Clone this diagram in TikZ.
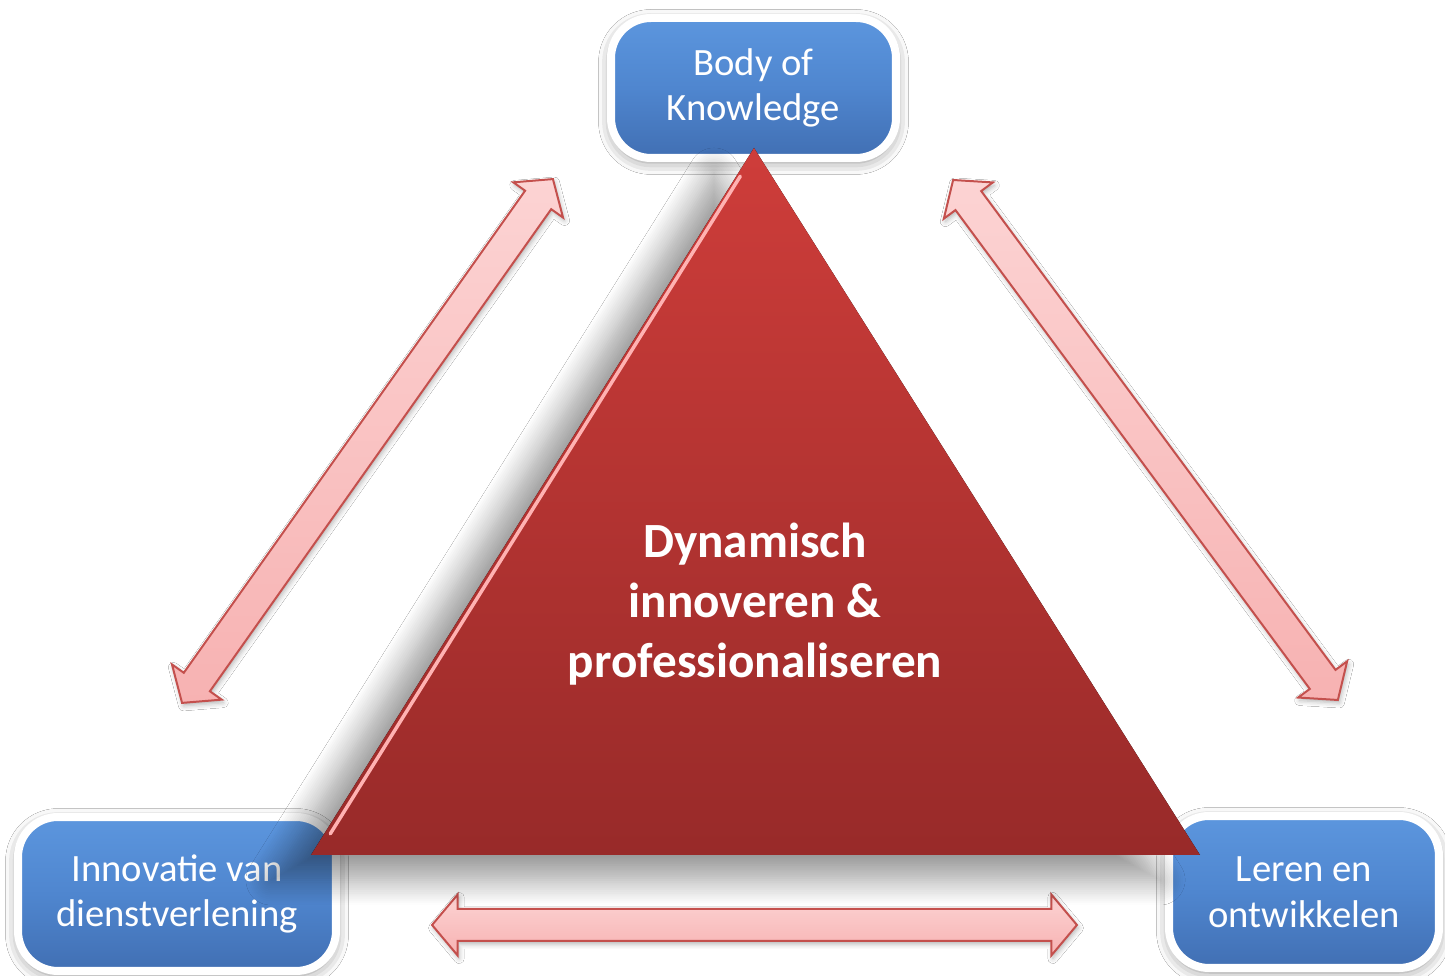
\documentclass[tikz,border=0pt]{standalone}
\usepackage{fontspec}
\setmainfont{Carlito}
\usetikzlibrary{calc,shapes.arrows,shadows.blur}

\definecolor{boxblue}{HTML}{4F86CF}
\definecolor{boxbluetop}{HTML}{5C96DE}
\definecolor{boxbluebot}{HTML}{416FB3}
\definecolor{trired}{HTML}{CE3D3A}
\definecolor{triredbot}{HTML}{982A29}
\definecolor{arrowtop}{HTML}{FCD3D3}
\definecolor{arrowbot}{HTML}{F7B2B2}
\definecolor{arrowline}{HTML}{C4504D}

\tikzset{
	bluebox/.style={rectangle, rounded corners=0.8cm, draw=white, line width=0.16cm,
		top color=boxbluetop, bottom color=boxbluebot, middle color=boxblue,
		text=white, align=center, inner sep=0pt, font=\fontsize{22}{26}\selectfont,
		blur shadow={shadow xshift=0cm, shadow yshift=-0.08cm, shadow blur radius=0.25cm, shadow opacity=45}},
	dblarrow/.style={double arrow, draw=arrowline, line width=0.04cm,
		top color=arrowtop, bottom color=arrowbot,
		inner xsep=0pt, inner ysep=0.3cm, text height=0pt, text depth=0pt,
		double arrow head extend=0.29cm, double arrow tip angle=100,
		blur shadow={shadow xshift=0.03cm, shadow yshift=-0.06cm, shadow blur radius=0.1cm, shadow opacity=30}},
	coretext/.style={text=white, align=center, font=\bfseries\fontsize{28}{34}\selectfont}
}

\begin{document}
\begin{tikzpicture}[x=0.02cm, y=0.02cm]
			%%%%% START %%%%%
			
			\fill[white] (0, 0) rectangle (1445, 976);
			\useasboundingbox (0, 0) rectangle (1445, 976);
			
			% arrows between the corners
			\node[dblarrow, minimum height=12.84cm, rotate=54.7] (leftarr) at (367.5, 535) {};
			\node[dblarrow, minimum height=12.94cm, rotate=-53.5] (rightarr) at (1145.5, 536) {};
			\node[dblarrow, minimum height=12.9cm] (basearr) at (754.5, 51) {};
			
			% corner boxes
			\node[bluebox, minimum width=5.7cm, minimum height=2.8cm] (bok) at (753.5, 888) {Body of\\Knowledge};
			\node[bluebox, minimum width=6.36cm, minimum height=3.08cm] (innov) at (177, 82) {Innovatie van\\dienstverlening};
			\node[bluebox, minimum width=5.4cm, minimum height=3.04cm] (leren) at (1304, 84) {Leren en\\ontwikkelen};
			
			% triangle
			\coordinate (apex) at (754, 828);
			\coordinate (tl) at (311, 121);
			\coordinate (tr) at (1200, 121);
			
			\fill[top color=trired, bottom color=triredbot,
				blur shadow={shadow xshift=-0.8cm, shadow yshift=-0.5cm, shadow blur radius=0.5cm,
					shadow blur steps=14, shadow opacity=40}]
				(apex) -- (tr) -- (tl) -- cycle;
			\draw[line width=0.07cm, color=red!30!white, line cap=round]
				($(tl)!0.03!(apex)+(6, 0)$) -- ($(tl)!0.96!(apex)+(4, 0)$);
			
			\node[coretext] (core) at (755, 372) {Dynamisch\\innoveren \&\\professionaliseren};
			
			%%%%% END %%%%%
\end{tikzpicture}
\end{document}
